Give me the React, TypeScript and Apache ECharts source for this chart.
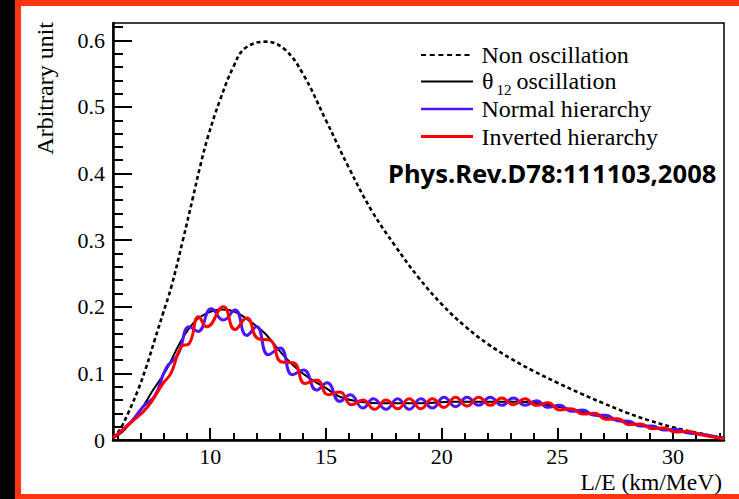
import React, { useEffect, useRef } from "react";
import * as echarts from "echarts";

// ---- axis ranges and ticks ----
const X_MIN = 5.8;
const X_MAX = 32.2;
const Y_MIN = 0;
const Y_MAX = 0.626;
const xMajor = [10, 15, 20, 25, 30];
const xMinor = [6, 7, 8, 9, 11, 12, 13, 14, 16, 17, 18, 19, 21, 22, 23, 24, 26, 27, 28, 29, 31, 32];
const yMajor = [0, 0.1, 0.2, 0.3, 0.4, 0.5, 0.6];
const yMinor = [0.02, 0.04, 0.06, 0.08, 0.12, 0.14, 0.16, 0.18, 0.22, 0.24, 0.26, 0.28, 0.32, 0.34, 0.36, 0.38, 0.42, 0.44, 0.46, 0.48, 0.52, 0.54, 0.56, 0.58, 0.62];

// ---- series names ----
const names = ["Non oscillation", "θ12 oscillation", "Normal hierarchy", "Inverted hierarchy"];

// ---- data: [L/E, value] ----
const nonOsc = [
  [5.8, 0.003], [6.09, 0.015], [6.45, 0.04], [6.88, 0.075], [7.24, 0.11], [7.6, 0.15],
  [7.96, 0.19], [8.32, 0.23], [8.82, 0.3], [9.26, 0.365], [9.56, 0.41], [9.9, 0.455],
  [10.42, 0.51], [11.0, 0.56], [11.5, 0.588], [12.4, 0.598], [13.2, 0.587], [14.0, 0.55],
  [15.0, 0.48], [16.0, 0.408], [17.0, 0.343], [18.0, 0.291], [19.0, 0.244], [20.0, 0.204],
  [21.0, 0.171], [22.0, 0.144], [23.0, 0.122], [24.0, 0.103], [25.0, 0.086], [26.0, 0.07],
  [27.0, 0.055], [28.0, 0.041], [29.0, 0.029], [30.0, 0.019], [31.0, 0.011], [32.2, 0.003],
];

const theta12 = [
  [5.8, 0.003], [6.2, 0.012], [6.66, 0.03], [7.0, 0.045], [7.53, 0.075], [8.1, 0.105],
  [8.68, 0.145], [9.26, 0.175], [9.83, 0.19], [10.5, 0.196], [11.07, 0.1925], [11.65, 0.18],
  [12.37, 0.16], [13.09, 0.13], [13.81, 0.105], [14.53, 0.0875], [15.0, 0.078], [15.6, 0.065],
  [16.47, 0.0575], [17.63, 0.055], [19.07, 0.055], [20.5, 0.0575], [21.95, 0.0575], [23.4, 0.0575],
  [24.6, 0.0525], [26.05, 0.0425], [27.5, 0.03], [28.9, 0.02], [30.37, 0.0125], [32.2, 0.0025],
];

const normalH = [
  [5.8, 0.003], [6.6, 0.028], [7.1, 0.05], [7.6, 0.066], [8.1, 0.108], [8.6, 0.128],
  [9.11, 0.17], [9.47, 0.163], [10.05, 0.197], [10.57, 0.18], [11.07, 0.195], [11.58, 0.157],
  [12.0, 0.17], [12.51, 0.128], [13.02, 0.138], [13.55, 0.098], [14.03, 0.105], [14.6, 0.075],
  [15.05, 0.086], [15.6, 0.058], [16.05, 0.068], [16.6, 0.048], [17.05, 0.062], [17.6, 0.046],
  [18.1, 0.062], [18.6, 0.046], [19.1, 0.062], [19.6, 0.048], [20.1, 0.064], [20.6, 0.05],
  [21.1, 0.064], [21.6, 0.052], [22.1, 0.064], [22.6, 0.052], [23.1, 0.063], [23.6, 0.052],
  [24.1, 0.059], [24.6, 0.049], [25.1, 0.052], [25.6, 0.043], [26.1, 0.045], [26.6, 0.037],
  [27.1, 0.037], [27.6, 0.029], [28.1, 0.028], [28.6, 0.021], [29.1, 0.021], [29.6, 0.015],
  [30.1, 0.016], [30.6, 0.011], [31.2, 0.009], [32.2, 0.002],
];

const invertedH = [
  [5.8, 0.003], [6.6, 0.027], [7.3, 0.05], [7.96, 0.085], [8.3, 0.1], [8.75, 0.14],
  [9.1, 0.145], [9.5, 0.185], [9.85, 0.17], [10.57, 0.2], [11.07, 0.166], [11.58, 0.183],
  [12.08, 0.152], [12.58, 0.15], [13.09, 0.117], [13.59, 0.116], [14.1, 0.085], [14.6, 0.09],
  [15.1, 0.068], [15.6, 0.072], [16.1, 0.053], [16.6, 0.06], [17.1, 0.046], [17.6, 0.06],
  [18.1, 0.047], [18.6, 0.062], [19.1, 0.047], [19.6, 0.062], [20.1, 0.049], [20.6, 0.064],
  [21.1, 0.051], [21.6, 0.064], [22.1, 0.052], [22.6, 0.063], [23.1, 0.053], [23.6, 0.062],
  [24.1, 0.052], [24.6, 0.056], [25.1, 0.045], [25.6, 0.047], [26.1, 0.039], [26.6, 0.04],
  [27.1, 0.031], [27.6, 0.032], [28.1, 0.023], [28.6, 0.024], [29.1, 0.017], [29.6, 0.018],
  [30.1, 0.012], [30.6, 0.013], [31.2, 0.008], [32.2, 0.002],
];

const SERIF = '"Liberation Serif", "DejaVu Serif", serif';
const BLUE = "#4f14ff";
const RED = "#ff0000";

export default function App() {
  const ref = useRef<HTMLDivElement>(null);

  useEffect(() => {
    if (!ref.current) return;
    const chart = echarts.init(ref.current, undefined, { renderer: "svg" });
    const tickLine = { color: "#000", width: 2 };

    // legend drawn with graphic elements (line sample + text per row)
    const legendRows = [
      { y: 55, stroke: "#000", width: 2, dash: [5, 3.7] },
      { y: 81.5, stroke: "#000", width: 2, dash: null },
      { y: 109, stroke: BLUE, width: 2.5, dash: null },
      { y: 136.5, stroke: RED, width: 3, dash: null },
    ];
    const legendText = (x: number, y: number, text: string, size = 24) => ({
      type: "text", x, y,
      style: { text, fill: "#000", fontSize: size, lineHeight: size - 2, fontFamily: SERIF, align: "left", verticalAlign: "middle" },
    });
    const legendGraphics: any[] = [];
    legendRows.forEach((r) => {
      legendGraphics.push({
        type: "line",
        shape: { x1: 421, y1: r.y, x2: 473, y2: r.y },
        style: { stroke: r.stroke, lineWidth: r.width, lineDash: r.dash || undefined },
      });
    });
    legendGraphics.push(legendText(481.5, 55, names[0]));
    legendGraphics.push(legendText(482, 80.8, "θ"));
    legendGraphics.push(legendText(496.5, 89.5, "12", 15));
    legendGraphics.push(legendText(516.5, 80.8, "oscillation"));
    legendGraphics.push(legendText(481.5, 109, names[2]));
    legendGraphics.push(legendText(481.5, 136.5, names[3]));

    const option: any = {
      animation: false,
      backgroundColor: "transparent",
      grid: {
        left: 113, right: 15, top: 23, bottom: 59,
        show: true, borderColor: "#000", borderWidth: 1.5, backgroundColor: "transparent",
      },
      xAxis: [
        {
          type: "value", min: X_MIN, max: X_MAX, position: "bottom",
          axisLine: { show: true, onZero: false, lineStyle: { color: "#000", width: 2.5 } },
          axisTick: { show: true, inside: true, length: 12, customValues: xMajor, lineStyle: tickLine },
          axisLabel: { show: true, customValues: xMajor, margin: 7.5, color: "#000", fontSize: 22, lineHeight: 17, fontFamily: SERIF },
          splitLine: { show: false },
        },
        {
          type: "value", min: X_MIN, max: X_MAX, position: "bottom",
          axisLine: { show: false, onZero: false },
          axisTick: { show: true, inside: true, length: 7, customValues: xMinor, lineStyle: tickLine },
          axisLabel: { show: false },
          splitLine: { show: false },
        },
      ],
      yAxis: [
        {
          type: "value", min: Y_MIN, max: Y_MAX, position: "left",
          axisLine: { show: true, onZero: false, lineStyle: { color: "#000", width: 2.5 } },
          axisTick: { show: true, inside: true, length: 19, customValues: yMajor, lineStyle: tickLine },
          axisLabel: {
            show: true, customValues: yMajor, margin: 8, color: "#000", fontSize: 22, lineHeight: 18, fontFamily: SERIF,
            formatter: (v: number) => (v === 0 ? "0" : v.toFixed(1)),
          },
          splitLine: { show: false },
        },
        {
          type: "value", min: Y_MIN, max: Y_MAX, position: "left",
          axisLine: { show: false, onZero: false },
          axisTick: { show: true, inside: true, length: 10, customValues: yMinor, lineStyle: tickLine },
          axisLabel: { show: false },
          splitLine: { show: false },
        },
      ],
      graphic: [
        {
          type: "text", x: 45, y: 22, rotation: Math.PI / 2,
          style: { text: "Arbitrary unit", fill: "#000", fontSize: 24, lineHeight: 20, fontFamily: SERIF, align: "right", verticalAlign: "middle" },
        },
        {
          type: "text", x: 722, y: 481.5,
          style: { text: "L/E (km/MeV)", fill: "#000", fontSize: 23.5, lineHeight: 19, fontFamily: SERIF, align: "right", verticalAlign: "middle" },
        },
        {
          type: "text", x: 388, y: 173,
          style: { text: "Phys.Rev.D78:111103,2008", fill: "#000", fontSize: 25.6, lineHeight: 22, fontWeight: "bold", fontFamily: '"Noto Sans", "Open Sans", sans-serif', align: "left", verticalAlign: "middle" },
        },
        ...legendGraphics,
      ],
      series: [
        {
          name: names[0], type: "line", data: nonOsc, showSymbol: false, symbol: "none", smooth: 0.4,
          lineStyle: { color: "#000", width: 2.6, type: [4, 3] }, itemStyle: { color: "#000" }, z: 2,
        },
        {
          name: names[1], type: "line", data: theta12, showSymbol: false, symbol: "none", smooth: 0.4,
          lineStyle: { color: "#000", width: 2 }, itemStyle: { color: "#000" }, z: 3,
        },
        {
          name: names[2], type: "line", data: normalH, showSymbol: false, symbol: "none", smooth: 0.5,
          lineStyle: { color: BLUE, width: 3 }, itemStyle: { color: BLUE }, z: 4,
        },
        {
          name: names[3], type: "line", data: invertedH, showSymbol: false, symbol: "none", smooth: 0.5,
          lineStyle: { color: RED, width: 3 }, itemStyle: { color: RED }, z: 5,
        },
      ],
    };
    chart.setOption(option);
    return () => chart.dispose();
  }, []);

  return (
    <div style={{ position: "fixed", left: 0, top: 0, width: 739, height: 499, background: "#000", overflow: "hidden" }}>
      <div
        style={{
          position: "absolute", left: 15, top: 0, width: 744, height: 499, boxSizing: "border-box",
          borderTop: "6px solid #fd3414", borderLeft: "6px solid #fd3414", borderBottom: "5px solid #fd3414",
          borderRight: "0", background: "#fff",
        }}
      />
      <div ref={ref} style={{ position: "absolute", left: 0, top: 0, width: 739, height: 499 }} />
    </div>
  );
}
